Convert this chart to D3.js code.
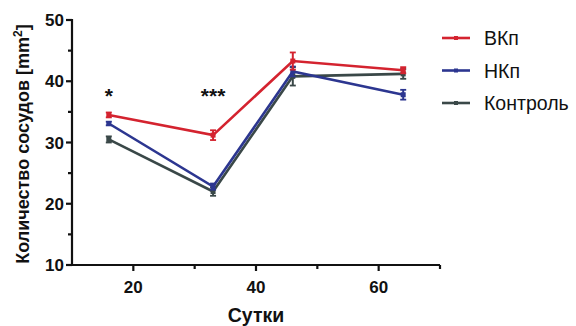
<!DOCTYPE html>
<html lang="ru">
  <head>
    <meta charset="UTF-8" />
    <title>Количество сосудов</title>
    <script src="https://cdn.jsdelivr.net/npm/d3@7"></script>
    <style>
      body { margin: 0; background: #fff; }
      text { font-family: Arial, "Liberation Sans", sans-serif; }
    </style>
  </head>
  <body>
    <script>
      // дни наблюдения
      var days = [16, 33, 46, 64];
      // средние значения
      var vkp = [34.5, 31.2, 43.3, 41.8];
      var nkp = [33.1, 22.8, 41.6, 37.8];
      var control = [30.5, 22.0, 40.8, 41.2];
      // ошибки
      var vkpErr = [0.4, 0.8, 1.4, 0.5];
      var nkpErr = [0.3, 0.5, 0.8, 0.8];
      var controlErr = [0.5, 0.7, 1.5, 0.8];
      var seriesNames = ["ВКп", "НКп", "Контроль"];
      var colors = ["#d4232f", "#2c3690", "#3a4848"];
      var xTicks = [20, 40, 60];
      var xMinor = [30, 50, 70];
      var yTicks = [10, 20, 30, 40, 50];
      var yMinor = [15, 25, 35, 45];
      var stars = [{ x: 16, y: 37.8, t: "*" }, { x: 33, y: 37.8, t: "***" }];

      var series = [
        { name: seriesNames[0], v: vkp, e: vkpErr, c: colors[0] },
        { name: seriesNames[1], v: nkp, e: nkpErr, c: colors[1] },
        { name: seriesNames[2], v: control, e: controlErr, c: colors[2] }
      ];

      var svg = d3.select("body").append("svg")
        .attr("width", 576).attr("height", 326);

      var x = d3.scaleLinear().domain([10, 70]).range([72, 440]);
      var y = d3.scaleLinear().domain([10, 50]).range([265, 20]);

      // оси
      var gx = svg.append("g").attr("transform", "translate(0,265)");
      gx.append("line").attr("x1", 71).attr("x2", 440)
        .attr("stroke", "#111").attr("stroke-width", 2.2);
      gx.selectAll(".maj").data(xTicks).enter().append("line")
        .attr("x1", x).attr("x2", x).attr("y1", 0).attr("y2", 6)
        .attr("stroke", "#111").attr("stroke-width", 2.2);
      gx.selectAll(".min").data(xMinor).enter().append("line")
        .attr("x1", x).attr("x2", x).attr("y1", 0).attr("y2", 4)
        .attr("stroke", "#111").attr("stroke-width", 2.2);
      gx.selectAll(".lbl").data(xTicks).enter().append("text")
        .attr("x", x).attr("y", 28)
        .attr("text-anchor", "middle")
        .attr("font-size", 17).attr("font-weight", "bold").attr("fill", "#111")
        .text(function (d) { return d; });

      var gy = svg.append("g").attr("transform", "translate(72,0)");
      gy.append("line").attr("y1", 19).attr("y2", 266)
        .attr("stroke", "#111").attr("stroke-width", 2.2);
      gy.selectAll(".maj").data(yTicks).enter().append("line")
        .attr("y1", y).attr("y2", y).attr("x1", 0).attr("x2", -6)
        .attr("stroke", "#111").attr("stroke-width", 2.2);
      gy.selectAll(".min").data(yMinor).enter().append("line")
        .attr("y1", y).attr("y2", y).attr("x1", 0).attr("x2", -4)
        .attr("stroke", "#111").attr("stroke-width", 2.2);
      gy.selectAll(".lbl").data(yTicks).enter().append("text")
        .attr("x", -8).attr("y", function (d) { return y(d) + 6; })
        .attr("text-anchor", "end")
        .attr("font-size", 17).attr("font-weight", "bold").attr("fill", "#111")
        .text(function (d) { return d; });

      svg.append("text")
        .attr("x", 256).attr("y", 322)
        .attr("text-anchor", "middle")
        .attr("font-size", 19.5).attr("font-weight", "bold").attr("fill", "#111")
        .text("Сутки");

      var yl = svg.append("text")
        .attr("transform", "translate(29,144) rotate(-90)")
        .attr("text-anchor", "middle")
        .attr("font-size", 18).attr("font-weight", "bold").attr("fill", "#111");
      yl.append("tspan").text("Количество сосудов [mm");
      yl.append("tspan").attr("font-size", 12).attr("dy", -7).text("2");
      yl.append("tspan").attr("dy", 7).text("]");

      // линии
      var line = d3.line()
        .x(function (d, i) { return x(days[i]); })
        .y(function (d) { return y(d); });

      var order = [2, 1, 0];
      order.forEach(function (k) {
        var s = series[k];
        var g = svg.append("g");
        g.append("path").datum(s.v)
          .attr("d", line).attr("fill", "none")
          .attr("stroke", s.c).attr("stroke-width", 2.6);
        g.selectAll(".err").data(s.v).enter().append("line")
          .attr("x1", function (d, i) { return x(days[i]); })
          .attr("x2", function (d, i) { return x(days[i]); })
          .attr("y1", function (d, i) { return y(d + s.e[i]); })
          .attr("y2", function (d, i) { return y(d - s.e[i]); })
          .attr("stroke", s.c).attr("stroke-width", 2);
        [1, -1].forEach(function (sg) {
          g.selectAll(".cap").data(s.v).enter().append("line")
            .attr("x1", function (d, i) { return x(days[i]) - 3; })
            .attr("x2", function (d, i) { return x(days[i]) + 3; })
            .attr("y1", function (d, i) { return y(d + sg * s.e[i]); })
            .attr("y2", function (d, i) { return y(d + sg * s.e[i]); })
            .attr("stroke", s.c).attr("stroke-width", 1.8);
        });
        g.selectAll(".pt").data(s.v).enter().append("rect")
          .attr("x", function (d, i) { return x(days[i]) - 2.5; })
          .attr("y", function (d) { return y(d) - 2.5; })
          .attr("width", 5).attr("height", 5)
          .attr("fill", s.c);
      });

      // звёздочки
      svg.selectAll(".star").data(stars).enter().append("text")
        .attr("x", function (d) { return x(d.x); })
        .attr("y", function (d) { return y(d.y) + 8; })
        .attr("text-anchor", "middle")
        .attr("font-size", 21).attr("font-weight", "bold").attr("fill", "#111")
        .text(function (d) { return d.t; });

      // легенда
      var lg = svg.selectAll(".leg").data(series).enter().append("g")
        .attr("transform", function (d, i) { return "translate(442," + (38 + i * 32.5) + ")"; });
      lg.append("line").attr("x1", 0).attr("x2", 28)
        .attr("stroke", function (d) { return d.c; }).attr("stroke-width", 2.6);
      lg.append("rect").attr("x", 12).attr("y", -2).attr("width", 4).attr("height", 4)
        .attr("fill", function (d) { return d.c; });
      lg.append("text").attr("x", 42).attr("y", 7)
        .attr("font-size", 19.5).attr("fill", "#111")
        .text(function (d) { return d.name; });
    </script>
  </body>
</html>
